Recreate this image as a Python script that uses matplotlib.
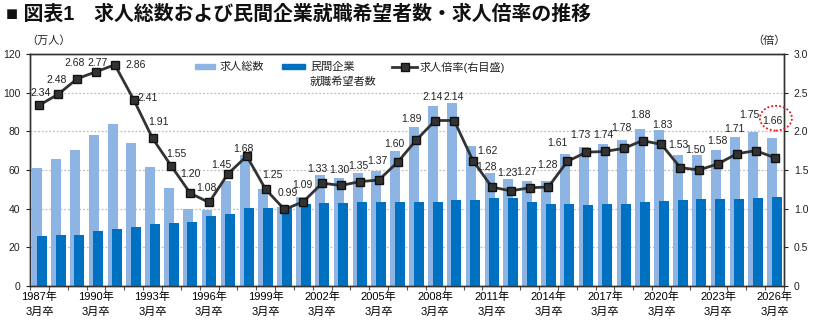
import matplotlib
matplotlib.use('Agg')
import matplotlib.pyplot as plt
from matplotlib.patches import Rectangle, Ellipse
from matplotlib.lines import Line2D
import numpy as np

plt.rcParams['font.family'] = ['Liberation Sans', 'Noto Sans CJK JP']

years = list(range(1987, 2027))
total_jobs = [60.8, 65.5, 70.4, 78.0, 84.0, 73.8, 61.7, 50.7, 40.0, 39.1,
              54.1, 67.6, 50.2, 40.8, 46.2, 57.3, 56.1, 58.4, 59.6, 69.8,
              82.5, 93.3, 94.8, 72.5, 58.2, 55.6, 54.4, 54.3, 68.3, 71.9,
              73.4, 75.5, 81.4, 80.5, 68.0, 67.6, 70.6, 77.1, 79.7, 76.7]
job_seekers = [26.0, 26.4, 26.3, 28.2, 29.4, 30.6, 32.3, 32.6, 33.2, 36.2,
               37.3, 40.3, 40.3, 41.2, 42.3, 43.0, 43.0, 43.3, 43.5, 43.6,
               43.7, 43.7, 44.3, 44.7, 45.6, 45.5, 43.4, 42.3, 42.2, 41.8,
               42.2, 42.3, 43.2, 44.0, 44.5, 45.0, 44.9, 45.1, 45.6, 46.1]
ratio = [2.34, 2.48, 2.68, 2.77, 2.86, 2.41, 1.91, 1.55, 1.20, 1.08,
         1.45, 1.68, 1.25, 0.99, 1.09, 1.33, 1.30, 1.35, 1.37, 1.60,
         1.89, 2.14, 2.14, 1.62, 1.28, 1.23, 1.27, 1.28, 1.61, 1.73,
         1.74, 1.78, 1.88, 1.83, 1.53, 1.50, 1.58, 1.71, 1.75, 1.66]

# label offsets in pixels (dx, dy) relative to each marker
label_off = [(1, 12), (-2, 14), (-3, 16), (2, 9), (21, 0), (14, 2), (6, 16), (5, 12),
             (0, 19), (-3, 14), (-7, 9), (-3, 7), (7, 14), (3, 16), (-1, 17), (-5, 14),
             (-2, 15), (-2, 16), (-1, 19), (-3, 18), (-5, 21), (-3, 24), (-1, 24), (14, 10),
             (-5, 20), (-3, 18), (-3, 16), (-1, 22), (-10, 18), (-6, 17), (-2, 16), (-2, 20),
             (-2, 26), (1, 19), (-2, 23), (-4, 20), (-1, 23), (-2, 25), (-6, 36), (-2, 37)]

light = '#8DB4E2'
dark = '#0070C0'
line_c = '#333333'

W, H = 815, 325
fig = plt.figure(figsize=(W / 100, H / 100), dpi=100)
ax = fig.add_axes([30 / W, 1 - 286 / H, (784 - 30) / W, (286 - 54) / H])

x = np.arange(len(years))
ax.bar(x - 0.12, total_jobs, width=0.53, color=light, zorder=2)
ax.bar(x + 0.12, job_seekers, width=0.53, color=dark, zorder=3)

ax.set_xlim(-0.5, len(years) - 0.5)
ax.set_ylim(0, 120)
ax.set_yticks(range(0, 121, 20))
ax.yaxis.grid(True, linestyle=(0, (1.5, 1.5)), color='#BFBFBF', linewidth=0.9)
ax.set_axisbelow(True)

ax.set_xticks(np.arange(-0.5, len(years), 1))
ax.set_xticklabels([])
ax.set_xticks(x[::3], minor=True)
ax.set_xticklabels([f'{y}年\n3月卒' for y in years[::3]], minor=True)
ax.tick_params(axis='x', which='major', length=3, width=0.8, color='#555555')
ax.tick_params(axis='x', which='minor', length=0, labelsize=8, pad=4)
ax.tick_params(axis='y', length=3, width=0.8, labelsize=7.5, colors='#222222', pad=4)
for lab in ax.get_xticklabels(minor=True):
    lab.set_linespacing(1.6)

for s in ax.spines.values():
    s.set_color('#333333')
    s.set_linewidth(1.0)

ax2 = ax.twinx()
ax2.set_ylim(0, 3.0)
ax2.set_yticks(np.arange(0, 3.01, 0.5))
ax2.set_yticklabels(['0' if v == 0 else f'{v:.1f}' for v in np.arange(0, 3.01, 0.5)])
ax2.tick_params(axis='y', length=3, width=0.8, labelsize=7.5, colors='#222222', pad=4)
for s in ax2.spines.values():
    s.set_color('#333333')
    s.set_linewidth(1.0)

ax2.plot(x, ratio, color=line_c, linewidth=2.0, marker='s', markersize=5.5,
         markerfacecolor='#333333', markeredgecolor='#111111', zorder=5)

for xi, r, (dx, dy) in zip(x, ratio, label_off):
    ax2.annotate(f'{r:.2f}', (xi, r), xytext=(dx * 0.72, dy * 0.72),
                 textcoords='offset points', ha='center', va='center',
                 fontsize=7.5, color='#222222', zorder=6)

# red dotted circle around latest value
ax2.add_patch(Ellipse((39.07, 2.17), 1.7, 0.32, fill=False, edgecolor='#E8141B',
                      linestyle=(0, (1, 1.2)), linewidth=1.3, clip_on=False, zorder=7))

# title and unit labels
fig.text(6 / W, 1 - 14 / H, '■ 図表1　求人総数および民間企業就職希望者数・求人倍率の推移',
         fontsize=14.3, fontweight='bold', va='center', ha='left', color='#111111')
fig.text(26 / W, 1 - 41 / H, '（万人）', fontsize=8, va='center', ha='left', color='#222222')
fig.text(786 / W, 1 - 41 / H, '（倍）', fontsize=8, va='center', ha='right', color='#222222')

# legend
def fx(px):
    return px / W

def fy(py):
    return 1 - py / H

fig.add_artist(Rectangle((fx(195), fy(69.5)), 20 / W, 5 / H, color=light, transform=fig.transFigure))
fig.text(fx(220), fy(67), '求人総数', fontsize=8, va='center', ha='left', color='#222222')
fig.add_artist(Rectangle((fx(282), fy(69.5)), 23 / W, 5 / H, color=dark, transform=fig.transFigure))
fig.text(fx(310), fy(67), '民間企業', fontsize=8, va='center', ha='left', color='#222222')
fig.text(fx(310), fy(82), '就職希望者数', fontsize=8, va='center', ha='left', color='#222222')
fig.add_artist(Line2D([fx(392), fx(417)], [fy(67), fy(67)], color=line_c, linewidth=2.0,
                      transform=fig.transFigure))
fig.add_artist(Line2D([fx(404.5)], [fy(67)], color=line_c, marker='s', markersize=5.5,
                      markerfacecolor='#333333', markeredgecolor='#111111', transform=fig.transFigure))
fig.text(fx(420), fy(67), '求人倍率(右目盛)', fontsize=8, va='center', ha='left', color='#222222')

fig.savefig('out.png', dpi=100)
